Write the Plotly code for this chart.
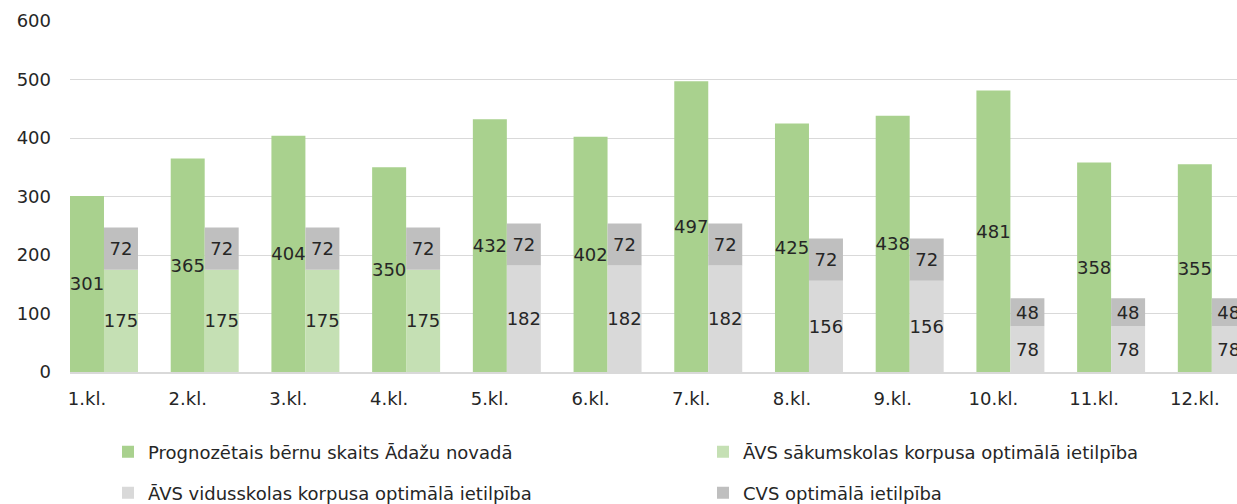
import plotly.graph_objects as go

categories = ["1.kl.", "2.kl.", "3.kl.", "4.kl.", "5.kl.", "6.kl.", "7.kl.", "8.kl.", "9.kl.", "10.kl.", "11.kl.", "12.kl."]
prognoze = [301, 365, 404, 350, 432, 402, 497, 425, 438, 481, 358, 355]
avs_sakum = [175, 175, 175, 175, None, None, None, None, None, None, None, None]
avs_vidus = [None, None, None, None, 182, 182, 182, 156, 156, 78, 78, 78]
cvs = [72, 72, 72, 72, 72, 72, 72, 72, 72, 48, 48, 48]

names = [
    "Prognozētais bērnu skaits Ādažu novadā",
    "ĀVS sākumskolas korpusa optimālā ietilpība",
    "ĀVS vidusskolas korpusa optimālā ietilpība",
    "CVS optimālā ietilpība",
]

FONT = "DejaVu Sans"
TXT = "#262626"
FS = 18

cvs_base = [(a or 0) + (b or 0) for a, b in zip(avs_sakum, avs_vidus)]

common = dict(textposition="inside", insidetextanchor="middle", constraintext="none",
              textangle=0, textfont=dict(family=FONT, size=FS, color=TXT), showlegend=True)

fig = go.Figure()
fig.add_bar(x=categories, y=prognoze, name=names[0], marker_color="#A9D18E",
            offsetgroup="a", text=prognoze, legend="legend", **common)
fig.add_bar(x=categories, y=avs_sakum, name=names[1], marker_color="#C5E0B4",
            offsetgroup="b", text=avs_sakum, legend="legend2", **common)
fig.add_bar(x=categories, y=avs_vidus, name=names[2], marker_color="#D9D9D9",
            offsetgroup="b", text=avs_vidus, legend="legend3", **common)
fig.add_bar(x=categories, y=cvs, base=cvs_base, name=names[3], marker_color="#BFBFBF",
            offsetgroup="b", text=cvs, legend="legend4", **common)

fig.update_traces(marker_line_width=0)

leg_common = dict(orientation="h", xanchor="left", yanchor="middle",
                  xref="container", yref="container", itemwidth=30,
                  font=dict(family=FONT, size=FS, color=TXT), bgcolor="rgba(0,0,0,0)")
col1, col2 = 108 / 1237, 703 / 1237
row1, row2 = (504 - 452) / 504, (504 - 493) / 504

fig.update_layout(
    width=1237, height=504,
    showlegend=True,
    margin=dict(l=70, r=0, t=21, b=132, autoexpand=False),
    barmode="group", bargap=0.325, bargroupgap=0,
    plot_bgcolor="white", paper_bgcolor="white",
    font=dict(family=FONT, size=FS, color=TXT),
    legend=dict(x=col1, y=row1, **leg_common),
    legend2=dict(x=col2, y=row1, **leg_common),
    legend3=dict(x=col1, y=row2, **leg_common),
    legend4=dict(x=col2, y=row2, **leg_common),
    xaxis=dict(type="category", range=[-0.3375, 11.25], showgrid=False, automargin=False,
               showline=True, linecolor="#D9D9D9", linewidth=2,
               ticks="", ticklabelshift=-17, ticklabelstandoff=9,
               tickfont=dict(family=FONT, size=FS, color=TXT)),
    yaxis=dict(range=[0, 600], dtick=100, showgrid=True, gridcolor="#D9D9D9", gridwidth=1,
               automargin=False, zeroline=False, showline=False, ticks="", ticklabelstandoff=18,
               tickfont=dict(family=FONT, size=FS, color=TXT)),
)

fig.write_html("out.html", config={"displayModeBar": False},
               post_script="document.body.style.margin='0';document.body.style.overflow='hidden';")
